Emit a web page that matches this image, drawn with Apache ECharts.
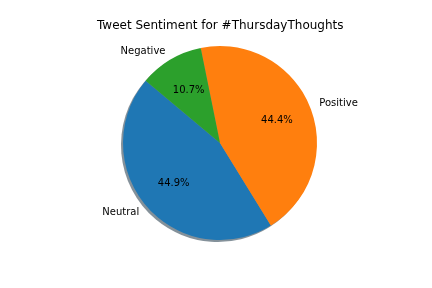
<!DOCTYPE html>
<html>
<head>
<meta charset="utf-8">
<script src="https://cdn.jsdelivr.net/npm/echarts@6/dist/echarts.min.js"></script>
<style>html,body{margin:0;padding:0;background:#fff;}#c{width:432px;height:288px;}</style>
</head>
<body>
<div id="c"></div>
<script>
var categories = ['Neutral', 'Positive', 'Negative'];
var values = [44.9, 44.4, 10.7];
var colors = ['#1f77b4', '#ff7f0e', '#2ca02c'];
var shadowColors = ['rgba(9,36,54,0.5)', 'rgba(77,38,4,0.5)', 'rgba(13,48,13,0.5)'];
var titleText = 'Tweet Sentiment for #ThursdayThoughts';

var R = 97, CX = 220, CY = 143;
var FONT = 'DejaVu Sans';

function mk(colorArr) {
  return categories.map(function (c, i) {
    return { name: c, value: values[i], itemStyle: { color: colorArr[i] } };
  });
}

var chart = echarts.init(document.getElementById('c'), null, { renderer: 'canvas' });
chart.setOption({
  animation: false,
  backgroundColor: '#fff',
  title: {
    text: titleText, left: 92, top: 15,
    textStyle: { fontFamily: FONT, fontSize: 12, fontWeight: 'normal', color: '#000' }
  },
  series: [
    {
      type: 'pie', silent: true, center: [CX - 2, CY + 2], radius: [0, R],
      startAngle: 140, clockwise: false, avoidLabelOverlap: false,
      label: { show: false }, labelLine: { show: false },
      data: mk(shadowColors)
    },
    {
      type: 'pie', silent: true, center: [CX, CY], radius: [0, R],
      startAngle: 140, clockwise: false, avoidLabelOverlap: false,
      itemStyle: { borderWidth: 0 },
      label: {
        show: true, position: 'outside', formatter: '{b}',
        fontFamily: FONT, fontSize: 10, color: '#000', distanceToLabelLine: 0
      },
      labelLine: { show: false, length: R * 0.1, length2: 0 },
      data: mk(colors)
    },
    {
      type: 'pie', silent: true, center: [CX, CY], radius: [R * 0.2, R],
      startAngle: 140, clockwise: false, avoidLabelOverlap: false,
      itemStyle: { color: 'rgba(0,0,0,0)', borderWidth: 0 },
      label: {
        show: true, position: 'inside',
        formatter: function (p) { return p.value.toFixed(1) + '%'; },
        fontFamily: FONT, fontSize: 10, color: '#000'
      },
      labelLine: { show: false },
      data: categories.map(function (c, i) { return { name: c, value: values[i] }; })
    }
  ]
});
</script>
</body>
</html>
